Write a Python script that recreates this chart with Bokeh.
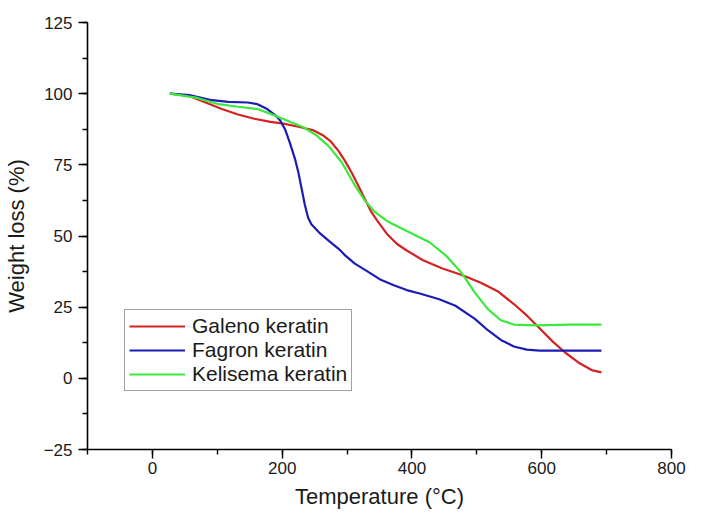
from bokeh.plotting import figure
from bokeh.models import Range1d, SingleIntervalTicker, Legend, LegendItem
from bokeh.embed import file_html
from bokeh.resources import INLINE

# Data (Temperature °C, Weight loss %)
galeno_t = [27, 57, 82, 107, 132, 157, 182, 202, 227, 247, 262, 275, 287, 297, 307, 317, 327, 337,
            347, 362, 377, 392, 417, 447, 477, 507, 532, 557, 577, 597, 617, 637, 657, 677, 692]
galeno_w = [100, 99.2, 96.9, 94.6, 92.7, 91.2, 90.1, 89.5, 88.3, 87.2, 85.5, 83.2, 79.8, 76.3, 72.3,
            67.8, 63.2, 58.6, 55.2, 50.6, 47.2, 44.9, 41.5, 38.6, 36.3, 33.5, 30.6, 26.1, 22.1, 17.5,
            12.9, 8.9, 5.5, 2.9, 2.1]

fagron_t = [27, 57, 92, 117, 147, 162, 177, 190, 197, 205, 212, 220, 225, 230, 235, 240, 245, 257,
            272, 287, 297, 312, 332, 352, 372, 392, 412, 442, 467, 497, 517, 537, 557, 577, 597, 637, 692]
fagron_w = [100, 99.5, 97.7, 97.1, 96.9, 96.3, 94.6, 92.3, 90.6, 87.2, 82.6, 76.9, 72.3, 66.6, 60.9,
            56.4, 54.1, 51.2, 48.3, 45.5, 43.2, 40.3, 37.5, 34.6, 32.7, 31.0, 29.8, 27.8, 25.5, 20.9,
            16.9, 13.5, 11.2, 10.1, 9.7, 9.7, 9.7]

kelisema_t = [27, 67, 102, 132, 162, 182, 212, 232, 252, 272, 292, 312, 327, 342, 362, 382, 402,
              427, 452, 477, 497, 517, 537, 557, 592, 642, 692]
kelisema_w = [100, 98.6, 96.3, 95.4, 94.6, 92.9, 90.1, 88.3, 85.5, 81.5, 75.8, 67.8, 62.6, 58.6,
              55.2, 52.9, 50.6, 47.8, 43.2, 36.9, 30.1, 24.3, 20.4, 18.9, 18.6, 18.9, 18.9]

series_names = ["Galeno keratin", "Fagron keratin", "Kelisema keratin"]
series_colors = ["#d42222", "#1c1cb4", "#3ce83c"]

FONT = "Liberation Sans"

p = figure(width=686, height=511, output_backend="svg", toolbar_location=None,
           x_range=Range1d(-100, 800), y_range=Range1d(-25, 125),
           min_border_left=85, min_border_right=15, min_border_top=22, min_border_bottom=56)
p.outline_line_color = None
p.grid.visible = False
p.background_fill_color = "white"
p.border_fill_color = "white"

renderers = []
for t, w, c in zip([galeno_t, fagron_t, kelisema_t], [galeno_w, fagron_w, kelisema_w], series_colors):
    r = p.line(t, w, line_color=c, line_width=2.2)
    renderers.append(r)

p.xaxis.ticker = SingleIntervalTicker(interval=200, num_minor_ticks=2)
p.yaxis.ticker = SingleIntervalTicker(interval=25, num_minor_ticks=2)

for ax in [p.xaxis[0], p.yaxis[0]]:
    ax.axis_line_width = 1.6
    ax.axis_line_color = "black"
    ax.major_tick_line_color = "black"
    ax.minor_tick_line_color = "black"
    ax.major_tick_line_width = 1.4
    ax.minor_tick_line_width = 1.4
    ax.major_tick_in = 0
    ax.major_tick_out = 9
    ax.minor_tick_in = 0
    ax.minor_tick_out = 5
    ax.major_label_text_font = FONT
    ax.major_label_text_font_size = "17px"
    ax.major_label_text_color = "#1a1a1a"
    ax.axis_label_text_font = FONT
    ax.axis_label_text_font_size = "22px"
    ax.axis_label_text_font_style = "normal"
    ax.axis_label_text_color = "#1a1a1a"

p.xaxis.axis_label = "Temperature (°C)"
p.yaxis.axis_label = "Weight loss (%)"
p.xaxis.major_label_standoff = 3
p.xaxis.axis_label_standoff = 7
p.yaxis.major_label_standoff = 6
p.yaxis.axis_label_standoff = 12

items = [LegendItem(label=n, renderers=[r]) for n, r in zip(series_names, renderers)]
legend = Legend(items=items, location=(37, 58))
legend.label_text_font = FONT
legend.label_text_font_size = "21px"
legend.label_text_color = "#1a1a1a"
legend.glyph_width = 56
legend.glyph_height = 18
legend.label_height = 18
legend.label_standoff = 7
legend.spacing = 0
legend.padding = 4
legend.margin = 0
legend.border_line_color = "#444444"
legend.border_line_width = 1
legend.background_fill_color = "white"
legend.background_fill_alpha = 1
p.add_layout(legend, "center")

open("out.html", "w").write(file_html(p, INLINE))
